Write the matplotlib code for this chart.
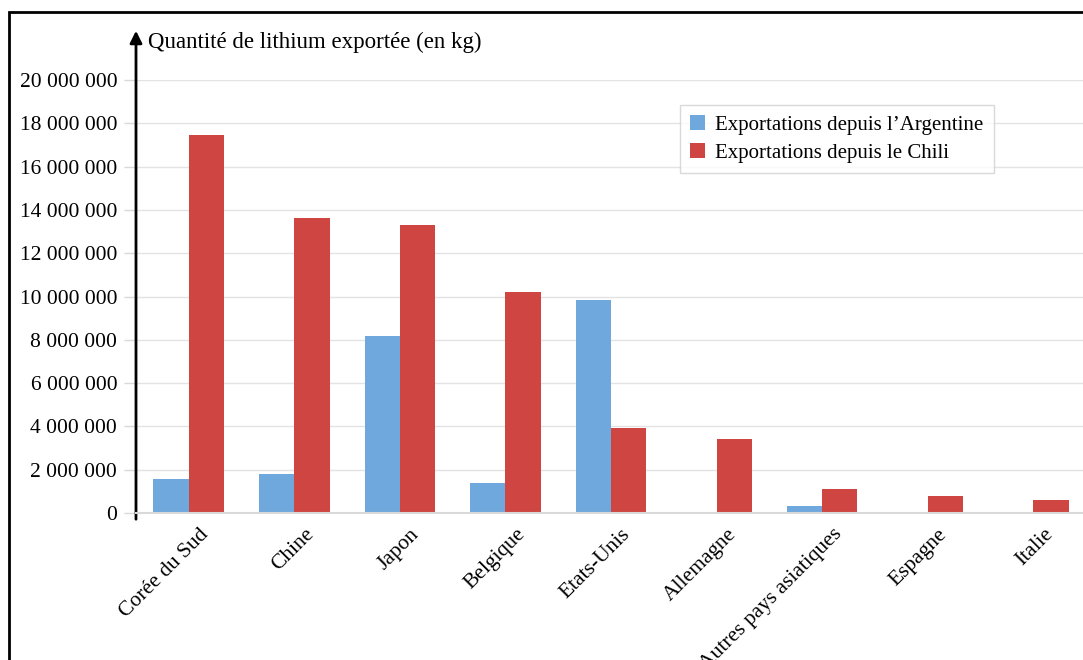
import matplotlib
matplotlib.use("Agg")
import matplotlib.pyplot as plt
import matplotlib.transforms as mtransforms
from matplotlib.patches import Rectangle
import numpy as np

plt.rcParams['font.family'] = ['Liberation Serif', 'DejaVu Serif']

pays = ["Corée du Sud", "Chine", "Japon", "Belgique", "Etats-Unis",
        "Allemagne", "Autres pays asiatiques", "Espagne", "Italie"]
argentine = [1570000, 1800000, 8180000, 1390000, 9840000, 0, 320000, 0, 0]
chili = [17460000, 13630000, 13300000, 10200000, 3930000, 3420000, 1100000, 780000, 600000]
yticks = [0, 2000000, 4000000, 6000000, 8000000, 10000000, 12000000,
          14000000, 16000000, 18000000, 20000000]

W, H = 1083, 660
fig = plt.figure(figsize=(W / 100, H / 100), dpi=100)
# axes in pixel coords: left 136, right 1086, bottom 513 (0), top 80 (20M)
ax = fig.add_axes([136 / W, 1 - 513 / H, (1086 - 136) / W, (513 - 80) / H])

x = np.arange(len(pays))
w = 0.335
ax.bar(x - w / 2, argentine, w, color="#6fa8dc", label="Exportations depuis l\u2019Argentine", zorder=3)
ax.bar(x + w / 2, chili, w, color="#cf4541", label="Exportations depuis le Chili", zorder=3)

ax.set_xlim(-0.5, len(pays) - 0.5)
ax.set_ylim(0, 20000000)
ax.set_yticks(yticks)
ax.set_yticklabels([f"{v:,}".replace(",", " ") for v in yticks], fontsize=15.5)
ax.tick_params(axis="y", length=9, color="#d9d9d9", width=1, pad=4.5)
ax.grid(axis="y", color="#e3e3e3", linewidth=1, zorder=0)
ax.set_axisbelow(True)

# category labels, rotated, drawn as texts shifted a little
ax.set_xticks(x)
ax.set_xticklabels([])
ax.tick_params(axis="x", length=0)
offset = mtransforms.ScaledTranslation(0.10, -0.12, fig.dpi_scale_trans)
for i, p in enumerate(pays):
    ax.text(i, 0, p, transform=ax.get_xaxis_transform() + offset, rotation=45,
            ha="right", va="top", rotation_mode="anchor", fontsize=15.5, clip_on=False)

for s in ["top", "right", "left"]:
    ax.spines[s].set_visible(False)
ax.spines["bottom"].set_color("#d9d9d9")
ax.spines["bottom"].set_linewidth(1.5)
ax.spines["bottom"].set_zorder(4)

# y axis with arrow
ax.annotate("", xy=(136 / W, 1 - 28 / H), xytext=(136 / W, 1 - 522 / H),
            xycoords="figure fraction", textcoords="figure fraction",
            arrowprops=dict(arrowstyle="-|>", color="black", lw=2, mutation_scale=18))
fig.text(148 / W, 1 - 42 / H, "Quantité de lithium exportée (en kg)", fontsize=16.5,
         ha="left", va="center")

leg = ax.legend(loc="upper left", bbox_to_anchor=(680 / W, 1 - 105 / H),
                bbox_transform=fig.transFigure, fontsize=15, frameon=True,
                fancybox=False, edgecolor="#d0d0d0", handlelength=0.7,
                handleheight=0.7, handletextpad=0.5, borderpad=0.5,
                labelspacing=0.4, borderaxespad=0)
leg.get_frame().set_linewidth(1)

# outer frame
fig.patches.append(Rectangle((9 / W, -0.2), 1.2, 1 - 12 / H + 0.2, transform=fig.transFigure,
                             fill=False, edgecolor="black", linewidth=2))

fig.savefig("out.png", dpi=100)
